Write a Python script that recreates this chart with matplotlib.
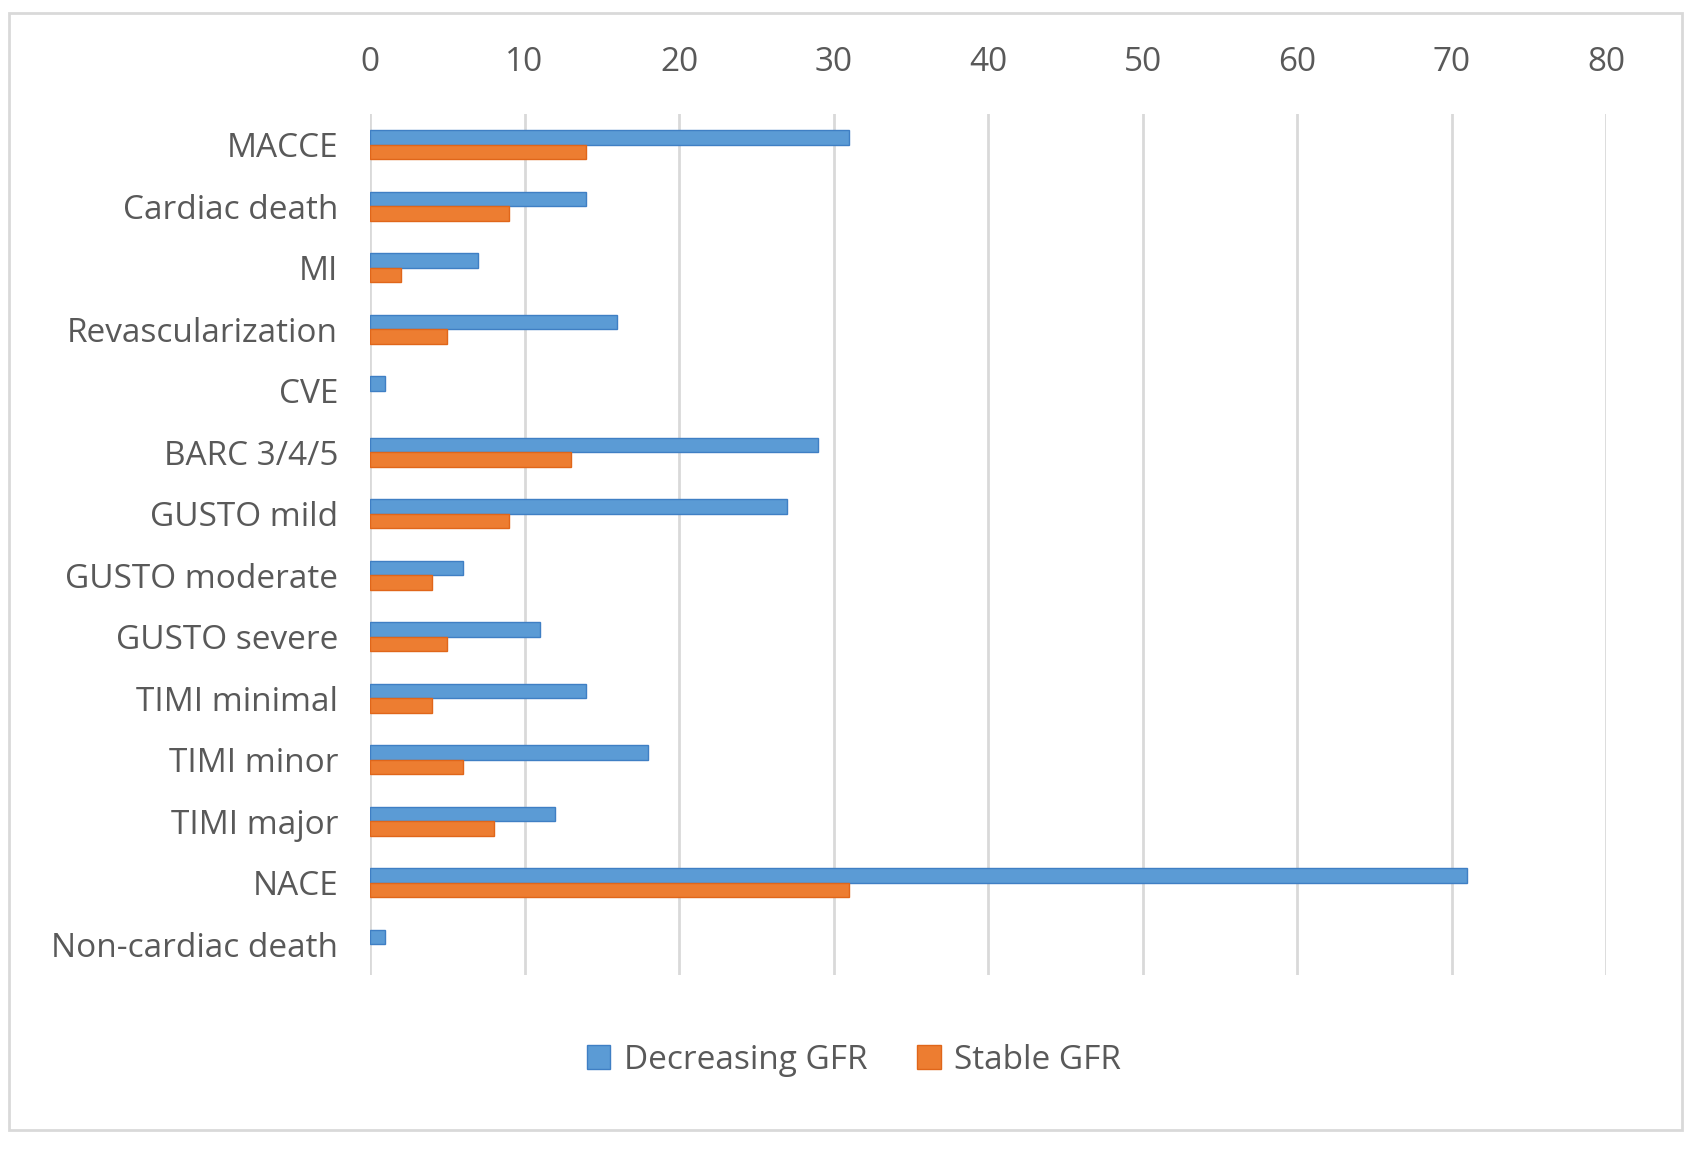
import numpy as np
import matplotlib
matplotlib.use("Agg")
import matplotlib.pyplot as plt
from matplotlib.patches import Rectangle

# Outcome categories (top to bottom) and event counts
categories = ["MACCE", "Cardiac death", "MI", "Revascularization", "CVE",
              "BARC 3/4/5", "GUSTO mild", "GUSTO moderate", "GUSTO severe",
              "TIMI minimal", "TIMI minor", "TIMI major", "NACE",
              "Non-cardiac death"]
decreasing_gfr = [31, 14, 7, 16, 1, 29, 27, 6, 11, 14, 18, 12, 71, 1]
stable_gfr = [14, 9, 2, 5, 0, 13, 9, 4, 5, 4, 6, 8, 31, 0]
x_ticks = [0, 10, 20, 30, 40, 50, 60, 70, 80]

plt.rcParams['font.family'] = ['Open Sans', 'DejaVu Sans']

fig = plt.figure(figsize=(16.91, 11.5), dpi=100)
ax = fig.add_axes([0.2188, 0.152, 0.731, 0.749])

y = np.arange(len(categories))
h = 0.235
# no outline on empty bars
lw_dec = [1 if v > 0 else 0 for v in decreasing_gfr]
lw_stb = [1 if v > 0 else 0 for v in stable_gfr]
ax.barh(y - h / 2, decreasing_gfr, height=h, color='#5B9BD5',
        edgecolor='#3F7FC4', linewidth=lw_dec, label='Decreasing GFR', zorder=3)
ax.barh(y + h / 2, stable_gfr, height=h, color='#ED7D31',
        edgecolor='#E0661A', linewidth=lw_stb, label='Stable GFR', zorder=3)

ax.set_ylim(len(categories) - 0.5, -0.5)
ax.set_xlim(0, 80)
ax.set_yticks(y)
ax.set_yticklabels(categories)
ax.set_xticks(x_ticks)
ax.xaxis.tick_top()
ax.tick_params(axis='x', length=0, pad=25, labelsize=24, labelcolor='#595959')
ax.tick_params(axis='y', length=0, pad=23, labelsize=24, labelcolor='#595959')
ax.grid(axis='x', color='#D9D9D9', linewidth=2, zorder=0)
for s in ax.spines.values():
    s.set_visible(False)

leg = fig.legend(loc='center', bbox_to_anchor=(0.505, 0.078), ncol=2,
                 frameon=False, fontsize=24, handlelength=0.7, handleheight=0.7,
                 handletextpad=0.4, columnspacing=1.5)
for t in leg.get_texts():
    t.set_color('#595959')

fig.patches.append(Rectangle((9 / 1691, 1 - 1130 / 1150), 1673 / 1691, 1117 / 1150,
                             transform=fig.transFigure, fill=False,
                             edgecolor='#D9D9D9', linewidth=2))

fig.savefig('out.png', dpi=100, facecolor='white')
